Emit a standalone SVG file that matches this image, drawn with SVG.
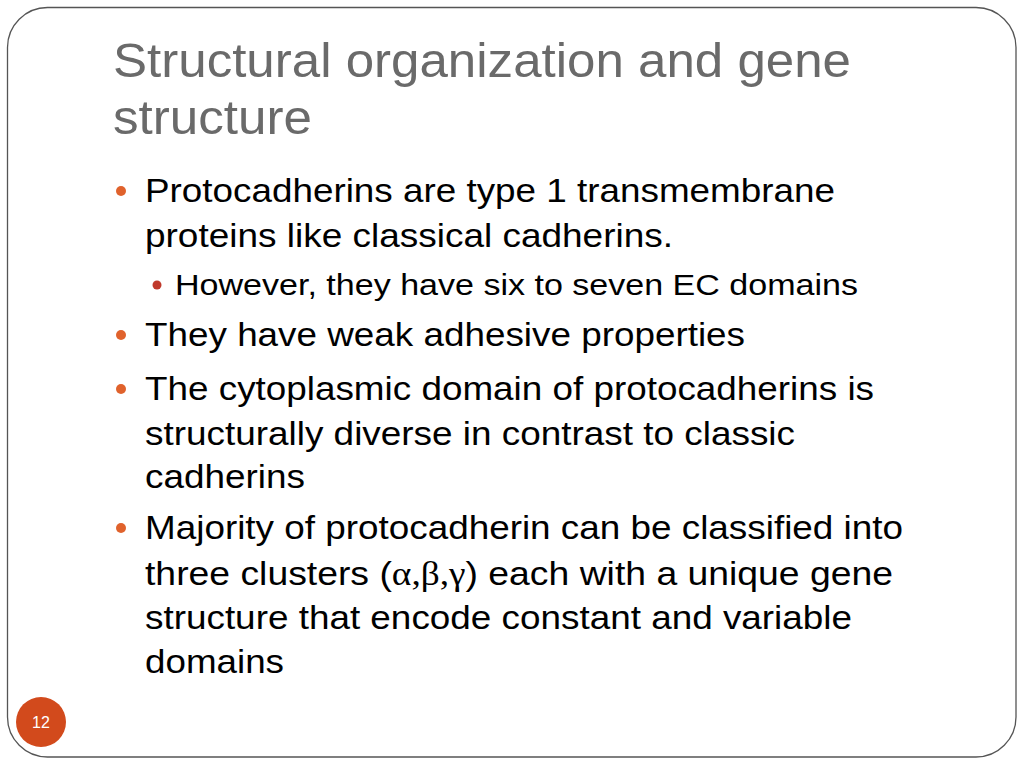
<svg xmlns="http://www.w3.org/2000/svg" width="1024" height="768" viewBox="0 0 1024 768">
<style>
.t{font-family:"Liberation Sans",Arial,sans-serif;fill:#6a6a6a;font-size:49px}
.b{font-family:"Liberation Sans",Arial,sans-serif;fill:#000;font-size:33.5px}
.s{font-family:"Liberation Sans",Arial,sans-serif;fill:#000;font-size:29.5px}
.g{font-family:"Liberation Serif","Times New Roman",serif}
.d1{fill:#e0622c}
.d2{fill:#c0392b}
</style>
<rect x="0" y="0" width="1024" height="768" fill="#fff"/>
<rect x="7.5" y="7.5" width="1008.5" height="749.5" rx="40" ry="40" fill="none" stroke="#555" stroke-width="1.3"/>
<g id="title">
<text class="t" x="113" y="77" textLength="738" lengthAdjust="spacingAndGlyphs">Structural organization and gene</text>
<text class="t" x="113" y="134" textLength="199" lengthAdjust="spacingAndGlyphs">structure</text>
</g>
<g id="body">
<circle class="d1" cx="121" cy="191" r="5"/>
<text class="b" x="145" y="202" textLength="690" lengthAdjust="spacingAndGlyphs">Protocadherins are type 1 transmembrane</text>
<text class="b" x="145" y="247" textLength="528" lengthAdjust="spacingAndGlyphs">proteins like classical cadherins.</text>
<circle class="d2" cx="157" cy="285" r="4.5"/>
<text class="s" x="175" y="295" textLength="683" lengthAdjust="spacingAndGlyphs">However, they have six to seven EC domains</text>
<circle class="d1" cx="121" cy="335" r="5"/>
<text class="b" x="145" y="346" textLength="600" lengthAdjust="spacingAndGlyphs">They have weak adhesive properties</text>
<circle class="d1" cx="121" cy="389" r="5"/>
<text class="b" x="145" y="400" textLength="729" lengthAdjust="spacingAndGlyphs">The cytoplasmic domain of protocadherins is</text>
<text class="b" x="145" y="445" textLength="650" lengthAdjust="spacingAndGlyphs">structurally diverse in contrast to classic</text>
<text class="b" x="145" y="488" textLength="160" lengthAdjust="spacingAndGlyphs">cadherins</text>
<circle class="d1" cx="121" cy="528" r="5"/>
<text class="b" x="145" y="539" textLength="758" lengthAdjust="spacingAndGlyphs">Majority of protocadherin can be classified into</text>
<text class="b" x="145" y="585" textLength="748" lengthAdjust="spacingAndGlyphs">three clusters (<tspan class="g">α,β,γ</tspan>) each with a unique gene</text>
<text class="b" x="145" y="629" textLength="707" lengthAdjust="spacingAndGlyphs">structure that encode constant and variable</text>
<text class="b" x="145" y="673" textLength="139" lengthAdjust="spacingAndGlyphs">domains</text>
</g>
<g id="page">
<circle cx="41" cy="722" r="25" fill="#d24a1c"/>
<text x="41" y="728" text-anchor="middle" font-family="Liberation Sans,Arial,sans-serif" font-size="16" fill="#fff">12</text>
</g>
</svg>
